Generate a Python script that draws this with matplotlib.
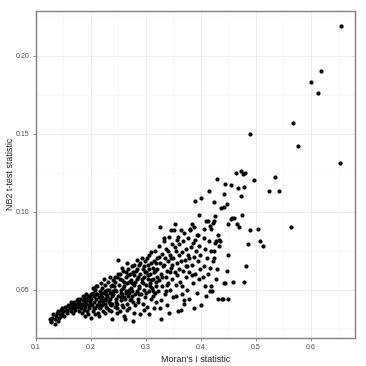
import numpy as np
import matplotlib
matplotlib.use("Agg")
import matplotlib.pyplot as plt
from matplotlib.ticker import MultipleLocator

# values, grouped by stretch of Moran's I
moran_low = [0.125, 0.127, 0.128, 0.130, 0.132, 0.135, 0.137, 0.138, 0.140, 0.142, 0.144, 0.145, 0.147,
             0.148, 0.150, 0.152, 0.153, 0.155, 0.157, 0.158, 0.160, 0.156, 0.146, 0.134, 0.141,
             0.162, 0.163, 0.165, 0.166, 0.168, 0.170, 0.171, 0.172, 0.174, 0.175, 0.176, 0.178, 0.179,
             0.180, 0.181, 0.182, 0.183, 0.184, 0.185, 0.186, 0.187, 0.188, 0.189, 0.190, 0.190, 0.191,
             0.192, 0.193, 0.194, 0.195, 0.196, 0.197, 0.198, 0.199, 0.200, 0.200, 0.169, 0.177, 0.185,
             0.173, 0.195, 0.164, 0.192]
nb2_low = [0.031, 0.029, 0.030, 0.032, 0.034, 0.031, 0.033, 0.035, 0.036, 0.032, 0.034, 0.037, 0.035,
           0.038, 0.036, 0.033, 0.039, 0.037, 0.035, 0.040, 0.038, 0.036, 0.033, 0.028, 0.030,
           0.040, 0.036, 0.041, 0.038, 0.035, 0.042, 0.039, 0.037, 0.041, 0.043, 0.039, 0.036, 0.042,
           0.040, 0.044, 0.038, 0.041, 0.035, 0.043, 0.040, 0.037, 0.045, 0.042, 0.039, 0.033, 0.044,
           0.041, 0.036, 0.046, 0.043, 0.040, 0.038, 0.045, 0.042, 0.032, 0.047, 0.040, 0.044, 0.046,
           0.039, 0.034, 0.042, 0.047]

moran_mid1 = [0.201, 0.202, 0.203, 0.204, 0.205, 0.206, 0.207, 0.208, 0.209, 0.210, 0.211, 0.212, 0.213,
              0.214, 0.215, 0.216, 0.217, 0.218, 0.219, 0.220, 0.221, 0.222, 0.223, 0.224, 0.225, 0.226,
              0.227, 0.228, 0.229, 0.230, 0.231, 0.232, 0.233, 0.234, 0.235, 0.236, 0.237, 0.238, 0.239,
              0.240, 0.204, 0.208, 0.212, 0.216, 0.220, 0.224, 0.228, 0.232, 0.236, 0.240, 0.206, 0.210,
              0.214, 0.218, 0.222, 0.226, 0.230, 0.234, 0.238, 0.215, 0.225, 0.235, 0.219, 0.229, 0.239]
nb2_mid1 = [0.044, 0.040, 0.048, 0.036, 0.046, 0.042, 0.050, 0.038, 0.044, 0.047, 0.040, 0.052, 0.035,
            0.045, 0.042, 0.049, 0.038, 0.046, 0.043, 0.051, 0.040, 0.036, 0.048, 0.044, 0.053, 0.041,
            0.047, 0.039, 0.050, 0.045, 0.055, 0.042, 0.037, 0.048, 0.044, 0.052, 0.040, 0.031, 0.046,
            0.056, 0.051, 0.034, 0.047, 0.040, 0.045, 0.057, 0.043, 0.050, 0.036, 0.049, 0.038, 0.052,
            0.039, 0.054, 0.042, 0.049, 0.038, 0.041, 0.053, 0.033, 0.035, 0.058, 0.048, 0.046, 0.041]

moran_mid2 = [0.241, 0.242, 0.243, 0.244, 0.245, 0.246, 0.247, 0.248, 0.249, 0.250, 0.251, 0.252, 0.253,
              0.254, 0.255, 0.256, 0.257, 0.258, 0.259, 0.260, 0.261, 0.261, 0.262, 0.263, 0.264, 0.265,
              0.266, 0.267, 0.268, 0.269, 0.270, 0.271, 0.272, 0.273, 0.274, 0.275, 0.276, 0.277, 0.278,
              0.279, 0.280, 0.244, 0.248, 0.252, 0.256, 0.260, 0.264, 0.268, 0.272, 0.276, 0.280, 0.246,
              0.250, 0.254, 0.258, 0.262, 0.266, 0.270, 0.274, 0.278, 0.243, 0.257, 0.265, 0.271, 0.279,
              0.247, 0.255, 0.263, 0.269, 0.275]
nb2_mid2 = [0.047, 0.052, 0.039, 0.055, 0.044, 0.049, 0.058, 0.041, 0.069, 0.046, 0.053, 0.036, 0.060,
            0.043, 0.050, 0.047, 0.056, 0.039, 0.062, 0.045, 0.033, 0.052, 0.031, 0.048, 0.058, 0.041,
            0.054, 0.063, 0.046, 0.050, 0.038, 0.060, 0.044, 0.056, 0.065, 0.049, 0.042, 0.030, 0.053,
            0.059, 0.047, 0.050, 0.035, 0.057, 0.040, 0.055, 0.049, 0.059, 0.051, 0.061, 0.040, 0.042,
            0.060, 0.048, 0.051, 0.044, 0.037, 0.055, 0.046, 0.066, 0.058, 0.064, 0.067, 0.043, 0.035,
            0.038, 0.045, 0.061, 0.048, 0.054]

moran_mid3 = [0.281, 0.282, 0.283, 0.284, 0.285, 0.286, 0.287, 0.288, 0.289, 0.290, 0.291, 0.292, 0.293,
              0.294, 0.295, 0.296, 0.297, 0.298, 0.299, 0.300, 0.301, 0.302, 0.303, 0.304, 0.305, 0.305,
              0.306, 0.307, 0.308, 0.309, 0.310, 0.311, 0.312, 0.313, 0.314, 0.315, 0.316, 0.317, 0.318,
              0.319, 0.320, 0.284, 0.288, 0.292, 0.296, 0.300, 0.304, 0.308, 0.312, 0.316, 0.320, 0.286,
              0.290, 0.294, 0.298, 0.302, 0.306, 0.310, 0.314, 0.318, 0.283, 0.297, 0.309, 0.313, 0.319,
              0.287]
nb2_mid3 = [0.055, 0.062, 0.049, 0.069, 0.044, 0.058, 0.052, 0.066, 0.034, 0.060, 0.047, 0.070, 0.055,
            0.041, 0.063, 0.050, 0.058, 0.068, 0.045, 0.053, 0.061, 0.039, 0.057, 0.066, 0.034, 0.049,
            0.072, 0.054, 0.060, 0.044, 0.074, 0.051, 0.064, 0.057, 0.038, 0.068, 0.048, 0.062, 0.055,
            0.042, 0.070, 0.063, 0.051, 0.057, 0.065, 0.048, 0.059, 0.052, 0.046, 0.075, 0.058, 0.042,
            0.067, 0.054, 0.061, 0.070, 0.063, 0.056, 0.061, 0.067, 0.057, 0.037, 0.067, 0.049, 0.052,
            0.047]

moran_high1 = [0.321, 0.322, 0.323, 0.324, 0.325, 0.326, 0.327, 0.328, 0.328, 0.329, 0.330, 0.331, 0.332,
               0.333, 0.334, 0.335, 0.336, 0.337, 0.338, 0.339, 0.340, 0.341, 0.342, 0.343, 0.344, 0.345,
               0.346, 0.347, 0.348, 0.349, 0.350, 0.351, 0.352, 0.353, 0.354, 0.355, 0.356, 0.357, 0.358,
               0.359, 0.360, 0.324, 0.330, 0.336, 0.340, 0.344, 0.348, 0.352, 0.356, 0.360, 0.332, 0.338,
               0.346, 0.354, 0.326, 0.342]
nb2_high1 = [0.063, 0.049, 0.078, 0.056, 0.090, 0.067, 0.043, 0.031, 0.060, 0.073, 0.052, 0.065, 0.081,
             0.083, 0.047, 0.070, 0.058, 0.076, 0.062, 0.040, 0.068, 0.054, 0.084, 0.072, 0.050, 0.088,
             0.064, 0.079, 0.057, 0.045, 0.070, 0.088, 0.061, 0.092, 0.075, 0.053, 0.067, 0.082, 0.036,
             0.084, 0.063, 0.071, 0.058, 0.049, 0.075, 0.061, 0.066, 0.077, 0.059, 0.072, 0.066, 0.053,
             0.070, 0.046, 0.038, 0.035]

moran_high2 = [0.361, 0.362, 0.363, 0.364, 0.365, 0.366, 0.367, 0.368, 0.369, 0.370, 0.371, 0.372, 0.373,
               0.374, 0.375, 0.376, 0.377, 0.378, 0.379, 0.380, 0.381, 0.382, 0.383, 0.384, 0.385, 0.386,
               0.387, 0.388, 0.389, 0.390, 0.391, 0.392, 0.393, 0.394, 0.395, 0.396, 0.397, 0.398, 0.399,
               0.400, 0.401, 0.366, 0.372, 0.378, 0.384, 0.390, 0.396, 0.370, 0.388, 0.363]
nb2_high2 = [0.079, 0.055, 0.068, 0.088, 0.047, 0.074, 0.062, 0.081, 0.041, 0.086, 0.069, 0.058, 0.076,
             0.050, 0.065, 0.083, 0.072, 0.044, 0.061, 0.088, 0.089, 0.077, 0.092, 0.066, 0.054, 0.080,
             0.071, 0.090, 0.107, 0.060, 0.075, 0.085, 0.048, 0.068, 0.085, 0.078, 0.098, 0.063, 0.072,
             0.040, 0.109, 0.052, 0.065, 0.070, 0.059, 0.082, 0.057, 0.043, 0.038, 0.037]

moran_high3 = [0.405, 0.405, 0.406, 0.407, 0.408, 0.410, 0.411, 0.412, 0.413, 0.414, 0.415, 0.416, 0.416,
               0.417, 0.418, 0.419, 0.419, 0.420, 0.421, 0.422, 0.423, 0.423, 0.424, 0.424, 0.425, 0.426,
               0.427, 0.429, 0.430, 0.431, 0.431, 0.433, 0.433, 0.435, 0.436, 0.439, 0.440, 0.441, 0.442,
               0.442, 0.443, 0.444, 0.404, 0.409, 0.428]
nb2_high3 = [0.089, 0.083, 0.065, 0.076, 0.052, 0.094, 0.070, 0.094, 0.060, 0.081, 0.113, 0.091, 0.049,
             0.064, 0.089, 0.075, 0.052, 0.049, 0.068, 0.093, 0.106, 0.094, 0.070, 0.075, 0.080, 0.097,
             0.081, 0.063, 0.121, 0.085, 0.044, 0.082, 0.078, 0.081, 0.102, 0.044, 0.044, 0.111, 0.103,
             0.054, 0.054, 0.118, 0.058, 0.046, 0.057]

moran_top = [0.448, 0.448, 0.449, 0.449, 0.450, 0.454, 0.455, 0.456, 0.458, 0.460, 0.464, 0.465, 0.468,
             0.470, 0.472, 0.473, 0.474, 0.477, 0.478, 0.479, 0.480, 0.481, 0.485, 0.489, 0.490, 0.496,
             0.503, 0.508, 0.513, 0.524, 0.535, 0.542, 0.564, 0.567, 0.576, 0.600, 0.612, 0.618, 0.653,
             0.654]
nb2_top = [0.105, 0.062, 0.072, 0.044, 0.092, 0.095, 0.117, 0.096, 0.055, 0.096, 0.125, 0.092, 0.115,
           0.090, 0.126, 0.110, 0.098, 0.124, 0.116, 0.055, 0.125, 0.065, 0.079, 0.150, 0.088, 0.120,
           0.089, 0.081, 0.078, 0.113, 0.122, 0.113, 0.090, 0.157, 0.142, 0.183, 0.176, 0.190, 0.131,
           0.219]

moran = np.concatenate([moran_low, moran_mid1, moran_mid2, moran_mid3,
                        moran_high1, moran_high2, moran_high3, moran_top])
nb2 = np.concatenate([nb2_low, nb2_mid1, nb2_mid2, nb2_mid3,
                      nb2_high1, nb2_high2, nb2_high3, nb2_top])

plt.rcParams['font.family'] = ['Liberation Sans', 'DejaVu Sans']

fig = plt.figure(figsize=(3.66, 3.66), dpi=100)
ax = fig.add_axes([0.098, 0.077, 0.872, 0.894])
ax.scatter(moran, nb2, s=9, color='black', linewidths=0, zorder=3)

ax.set_xlim(0.1, 0.68)
ax.set_ylim(0.019, 0.229)
ax.xaxis.set_major_locator(MultipleLocator(0.1))
ax.xaxis.set_minor_locator(MultipleLocator(0.05))
ax.yaxis.set_major_locator(MultipleLocator(0.05))
ax.yaxis.set_minor_locator(MultipleLocator(0.025))
ax.xaxis.set_major_formatter(plt.FuncFormatter(lambda v, p: f"{v:.1f}"))
ax.yaxis.set_major_formatter(plt.FuncFormatter(lambda v, p: f"{v:.2f}"))

ax.grid(which='major', color='#EBEBEB', linewidth=0.6, zorder=0)
ax.grid(which='minor', color='#F5F5F5', linewidth=0.5, zorder=0)
ax.set_axisbelow(True)
for sp in ax.spines.values():
    sp.set_color('#7F7F7F')
    sp.set_linewidth(1.0)
ax.tick_params(which='major', length=2.5, width=0.6, color='#7F7F7F',
               labelsize=5, labelcolor='#4D4D4D', pad=2)
ax.tick_params(which='minor', length=0)

ax.set_xlabel("Moran's I statistic", fontsize=6.4, color='#222222', labelpad=2.5)
ax.set_ylabel("NB2 t-test statistic", fontsize=6.4, color='#222222',
              va='center')
ax.yaxis.set_label_coords(-0.078, 0.5)

fig.savefig('out.png', dpi=100, facecolor='white')
